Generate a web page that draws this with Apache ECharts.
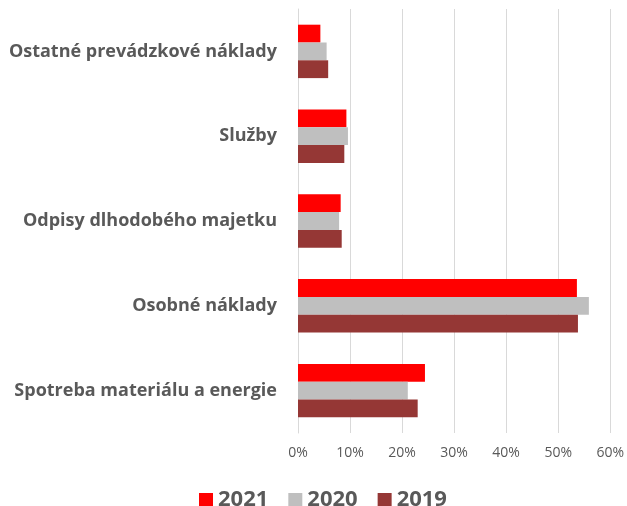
<!DOCTYPE html>
<html>
<head>
<meta charset="utf-8">
<script src="https://cdn.jsdelivr.net/npm/echarts@6/dist/echarts.min.js"></script>
<style>
  html, body { margin: 0; padding: 0; background: #fff; }
  #chart { width: 627px; height: 506px; }
</style>
</head>
<body>
<div id="chart"></div>
<script>
// kategórie zdola nahor (ako na osi)
var categories = [
  'Spotreba materiálu a energie',
  'Osobné náklady',
  'Odpisy dlhodobého majetku',
  'Služby',
  'Ostatné prevádzkové náklady'
]
var years = ['2021', '2020', '2019']
var colors = ['#FF0000', '#BFBFBF', '#953735']
// hodnoty v %
var data2021 = [24.4, 53.6, 8.2, 9.3, 4.3]
var data2020 = [21.1, 55.9, 7.9, 9.6, 5.5]
var data2019 = [23.0, 53.8, 8.4, 8.9, 5.8]
var xTicks = [0, 10, 20, 30, 40, 50, 60]

var chart = echarts.init(document.getElementById('chart'))
var values = [data2021, data2020, data2019]

var option = {
  animation: false,
  grid: {
    left: 298,
    right: 14,
    top: 9,
    bottom: 73
  },
  legend: {
    data: years,
    left: 194,
    top: 484,
    itemWidth: 14,
    itemHeight: 14,
    itemGap: 20,
    icon: 'rect',
    textStyle: {
      fontFamily: 'Open Sans',
      fontWeight: 'bold',
      fontSize: 22,
      color: '#595959'
    }
  },
  xAxis: {
    type: 'value',
    min: xTicks[0],
    max: xTicks[xTicks.length - 1],
    interval: 10,
    axisLine: { show: false },
    axisTick: { show: false },
    splitLine: { lineStyle: { color: '#D9D9D9', width: 1 } },
    axisLabel: {
      formatter: '{value}%',
      color: '#595959',
      fontFamily: 'Open Sans',
      fontSize: 14,
      margin: 13
    }
  },
  yAxis: {
    type: 'category',
    data: categories,
    axisLine: { lineStyle: { color: '#D9D9D9' } },
    axisTick: { show: false },
    axisLabel: {
      color: '#595959',
      fontFamily: 'Open Sans',
      fontWeight: 'bold',
      fontSize: 18,
      margin: 21
    }
  },
  // prvá séria je v skupine hore -> 2021 hore, 2019 dole
  series: years.map(function (y, i) {
    return {
      name: y,
      type: 'bar',
      data: values[i],
      barGap: '0%',
      barCategoryGap: '37%',
      itemStyle: { color: colors[i] }
    }
  })
}
option && chart.setOption(option)
</script>
</body>
</html>
